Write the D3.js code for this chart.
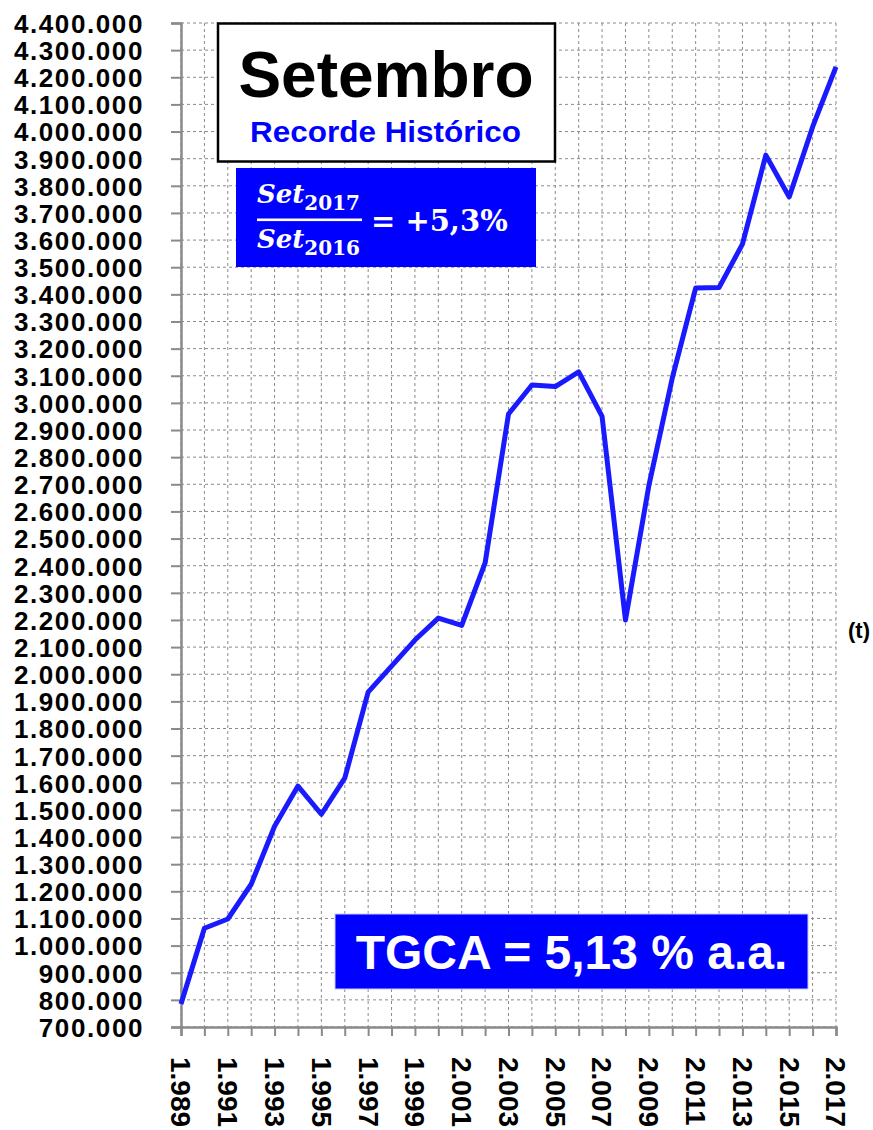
<!DOCTYPE html>
<html>
<head>
<meta charset="utf-8">
<script src="https://cdn.jsdelivr.net/npm/d3@7"></script>
<style>
  body { margin: 0; background: #fff; }
  svg { display: block; }
  .lbl { font-family: "Liberation Sans", Arial, sans-serif; font-weight: bold; font-size: 26px; fill: #000; letter-spacing: 1.6px; }
  .xlbl { font-size: 28px; letter-spacing: 0; }
</style>
</head>
<body>
<svg id="chart" width="873" height="1130"></svg>
<script>
// Setembro — série histórica (t), 1989–2017

const years = [1989, 1990, 1991, 1992, 1993, 1994, 1995, 1996, 1997, 1998,
               1999, 2000, 2001, 2002, 2003, 2004, 2005, 2006, 2007, 2008,
               2009, 2010, 2011, 2012, 2013, 2014, 2015, 2016, 2017];
const values = [785000, 1064000, 1098000, 1226000, 1440000, 1588000, 1484000, 1617000, 1934000, 2030000,
                2126000, 2207000, 2180000, 2410000, 2959000, 3066000, 3060000, 3114000, 2950000, 2200000,
                2695000, 3091000, 3423000, 3425000, 3585000, 3913000, 3759000, 4017000, 4238000];
const yTicks = [700000, 800000, 900000, 1000000, 1100000, 1200000, 1300000, 1400000, 1500000, 1600000,
                1700000, 1800000, 1900000, 2000000, 2100000, 2200000, 2300000, 2400000, 2500000, 2600000,
                2700000, 2800000, 2900000, 3000000, 3100000, 3200000, 3300000, 3400000, 3500000, 3600000,
                3700000, 3800000, 3900000, 4000000, 4100000, 4200000, 4300000, 4400000];
const xLabelYears = [1989, 1991, 1993, 1995, 1997, 1999, 2001, 2003, 2005, 2007, 2009, 2011, 2013, 2015, 2017];

const ptBR = d3.formatLocale({ decimal: ",", thousands: ".", grouping: [3], currency: ["", ""] });
const fmt = ptBR.format(",d");

const svg = d3.select("#chart");
const x = d3.scaleLinear().domain([1989, 2017]).range([181, 836]);
const y = d3.scaleLinear().domain([700000, 4400000]).range([1027, 23]);

// grid
const grid = svg.append("g").attr("stroke", "#8a8a8a").attr("stroke-width", 1).attr("stroke-dasharray", "3,3");
grid.selectAll("line.h").data(yTicks).join("line")
  .attr("class", "h")
  .attr("x1", x.range()[0]).attr("x2", x.range()[1])
  .attr("y1", d => y(d)).attr("y2", d => y(d));
grid.selectAll("line.v").data(years).join("line")
  .attr("class", "v")
  .attr("x1", d => x(d)).attr("x2", d => x(d))
  .attr("y1", y.range()[1]).attr("y2", y.range()[0]);

// axes
const yAxis = svg.append("g")
  .attr("transform", `translate(${x.range()[0]},0)`)
  .call(d3.axisLeft(y).tickValues(yTicks).tickSize(10).tickPadding(27).tickFormat(fmt));
const xAxis = svg.append("g")
  .attr("transform", `translate(0,${y.range()[0]})`)
  .call(d3.axisBottom(x).tickValues(years).tickSize(9)
    .tickFormat(d => xLabelYears.includes(d) ? fmt(d) : ""));

[yAxis, xAxis].forEach(a => {
  a.select(".domain").attr("stroke", "#8a8a8a").attr("stroke-width", 2.5);
  a.selectAll(".tick line").attr("stroke", "#8a8a8a").attr("stroke-width", 2);
  a.selectAll("text").attr("class", "lbl").attr("font-family", null).attr("font-size", null);
});
yAxis.selectAll("text").attr("dy", "0.36em");
xAxis.selectAll("text")
  .attr("class", "lbl xlbl")
  .attr("transform", "rotate(90)")
  .attr("x", 30).attr("y", 0).attr("dy", "0.36em")
  .style("text-anchor", "start");

// unit
svg.append("text").attr("x", 859).attr("y", 638)
  .attr("text-anchor", "middle")
  .attr("font-family", "Liberation Sans, Arial, sans-serif")
  .attr("font-weight", "bold").attr("font-size", 22)
  .text("(t)");

// series line
svg.append("path")
  .datum(years.map((yr, i) => [yr, values[i]]))
  .attr("fill", "none")
  .attr("stroke", "#1a1aff")
  .attr("stroke-width", 5)
  .attr("stroke-linejoin", "round")
  .attr("d", d3.line().x(d => x(d[0])).y(d => y(d[1])));

// title box
svg.append("rect").attr("x", 218).attr("y", 23.5).attr("width", 337).attr("height", 138)
  .attr("fill", "#fff").attr("stroke", "#000").attr("stroke-width", 2.5);
svg.append("text").attr("x", 386).attr("y", 97).attr("text-anchor", "middle")
  .style("font-family", "Liberation Sans, Arial, sans-serif").style("font-weight", "bold")
  .style("font-size", "64px").attr("fill", "#000").text("Setembro");
svg.append("text").attr("x", 250).attr("y", 142)
  .attr("textLength", 271).attr("lengthAdjust", "spacingAndGlyphs")
  .style("font-family", "Liberation Sans, Arial, sans-serif").style("font-weight", "bold")
  .style("font-size", "29px").attr("fill", "#0000ff").text("Recorde Histórico");

// variation box
svg.append("rect").attr("x", 236).attr("y", 168).attr("width", 300).attr("height", 99).attr("fill", "#0000ff");
const frac = svg.append("g").attr("fill", "#fff")
  .style("font-family", "DejaVu Serif, Liberation Serif, serif").style("font-weight", "bold");
function setTerm(yBase, yr) {
  const t = frac.append("text").attr("x", 257).attr("y", yBase);
  t.append("tspan").style("font-style", "italic").style("font-size", "26px").text("Set");
  t.append("tspan").attr("dy", 7).style("font-size", "20px").text(yr);
}
setTerm(203, "2017");
setTerm(248, "2016");
frac.append("rect").attr("x", 257).attr("y", 218.5).attr("width", 105).attr("height", 2.6);
frac.append("text").attr("x", 371).attr("y", 231).style("font-size", "29px").text("= +5,3%");

// TGCA box
svg.append("rect").attr("x", 335).attr("y", 914).attr("width", 473).attr("height", 75)
  .attr("fill", "#0000ff").attr("stroke", "#c8c8ff").attr("stroke-width", 1);
svg.append("text").attr("x", 571.5).attr("y", 969).attr("text-anchor", "middle")
  .style("font-family", "Liberation Sans, Arial, sans-serif").style("font-weight", "bold")
  .style("font-size", "48px").attr("fill", "#fff").text("TGCA = 5,13 % a.a.");
</script>
</body>
</html>
